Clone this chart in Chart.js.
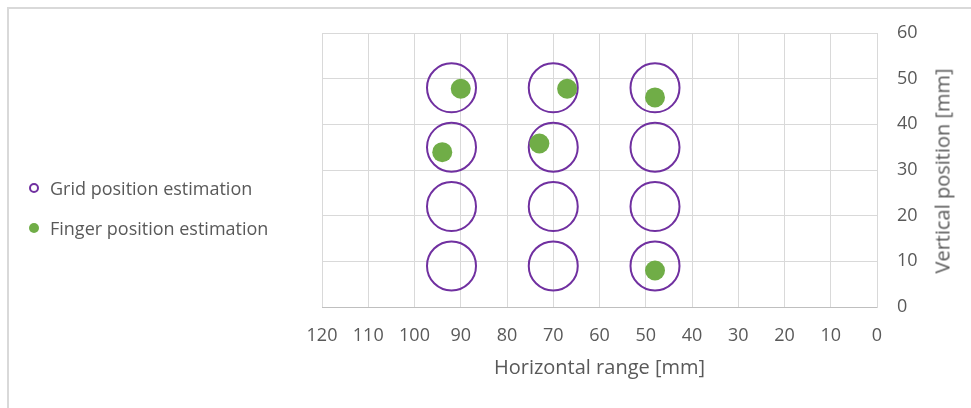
<!DOCTYPE html>
<html>
<head>
<meta charset="utf-8">
<script src="https://cdn.jsdelivr.net/npm/chart.js@4/dist/chart.umd.min.js"></script>
<style>
  html, body { margin: 0; padding: 0; background: #fff; }
  #wrap { position: relative; width: 971px; height: 408px; overflow: hidden; font-family: "Open Sans", sans-serif; color: #595959; }
  #frame { position: absolute; left: 7px; top: 7px; width: 980px; height: 420px; border-top: 2px solid #D9D9D9; border-left: 2px solid #D9D9D9; box-sizing: border-box; }
  canvas { position: absolute; left: 0; top: 0; }
  #legend { position: absolute; left: 29px; top: 168px; font-size: 18px; line-height: 40px; }
  .item { position: relative; height: 40px; padding-left: 21px; white-space: nowrap; }
  .item .mk { position: absolute; left: 0px; border-radius: 50%; box-sizing: border-box; }
  #ytitle { position: absolute; left: 942px; top: 171px; transform: translate(-50%, -50%) rotate(-90deg); font-size: 20px; font-weight: 400; white-space: nowrap; }
</style>
</head>
<body>
<div id="wrap">
  <div id="frame"></div>
  <canvas id="c" width="971" height="408"></canvas>
  <div id="legend"></div>
  <div id="ytitle">Vertical position [mm]</div>
</div>
<script>
// ---- data ----
const gridX = [92, 92, 92, 92, 70, 70, 70, 70, 48, 48, 48, 48];
const gridY = [48, 35, 22, 9, 48, 35, 22, 9, 48, 35, 22, 9];
const fingerX = [90, 67, 48, 94, 73, 48];
const fingerY = [47.8, 47.8, 45.9, 33.9, 35.8, 8.0];
const seriesNames = ["Grid position estimation", "Finger position estimation"];
const xTitle = "Horizontal range [mm]";
const yTitle = "Vertical position [mm]";

const purple = "#7030A0";
const green = "#70AD47";
const textCol = "#595959";
const font = "'Open Sans', sans-serif";

const toPts = (xs, ys) => xs.map((x, i) => ({ x: x, y: ys[i] }));

new Chart(document.getElementById("c"), {
  type: "scatter",
  data: {
    datasets: [
      {
        label: seriesNames[1],
        data: toPts(fingerX, fingerY),
        pointRadius: 10,
        pointHoverRadius: 10,
        pointBackgroundColor: green,
        pointBorderColor: green,
        pointBorderWidth: 0,
        order: 1
      },
      {
        label: seriesNames[0],
        data: toPts(gridX, gridY),
        pointRadius: 24.5,
        pointHoverRadius: 24.5,
        pointBackgroundColor: "rgba(0,0,0,0)",
        pointBorderColor: purple,
        pointBorderWidth: 2,
        order: 2
      }
    ]
  },
  options: {
    responsive: false,
    animation: false,
    events: [],
    layout: { padding: { left: 322, right: 0, top: 33, bottom: 0 } },
    plugins: { legend: { display: false }, tooltip: { enabled: false } },
    scales: {
      x: {
        type: "linear",
        reverse: true,
        min: 0, max: 120,
        ticks: { stepSize: 10, color: textCol, font: { family: font, size: 18 }, padding: 18, maxRotation: 0 },
        grid: { color: "#D9D9D9", drawTicks: false },
        border: { color: "#BFBFBF" },
        title: { display: true, text: xTitle, color: textCol, font: { family: font, size: 20 }, padding: { top: 6, bottom: 28 } },
        afterFit: (s) => { s.height = 101; }
      },
      y: {
        type: "linear",
        position: "right",
        min: 0, max: 60,
        ticks: { stepSize: 10, color: textCol, font: { family: font, size: 18 }, padding: 20 },
        grid: { color: "#D9D9D9", drawTicks: false },
        border: { color: "#D9D9D9" },
        afterFit: (s) => { s.width = 94; }
      }
    }
  }
});

// HTML legend
const lg = document.getElementById("legend");
[
  [seriesNames[0], "top:15px;width:10px;height:10px;border:2.5px solid " + purple + ";background:#fff;"],
  [seriesNames[1], "top:15px;width:10px;height:10px;background:" + green + ";"]
].forEach(([t, st]) => {
  const d = document.createElement("div");
  d.className = "item";
  d.innerHTML = '<span class="mk" style="' + st + '"></span>' + t;
  lg.appendChild(d);
});
</script>
</body>
</html>
